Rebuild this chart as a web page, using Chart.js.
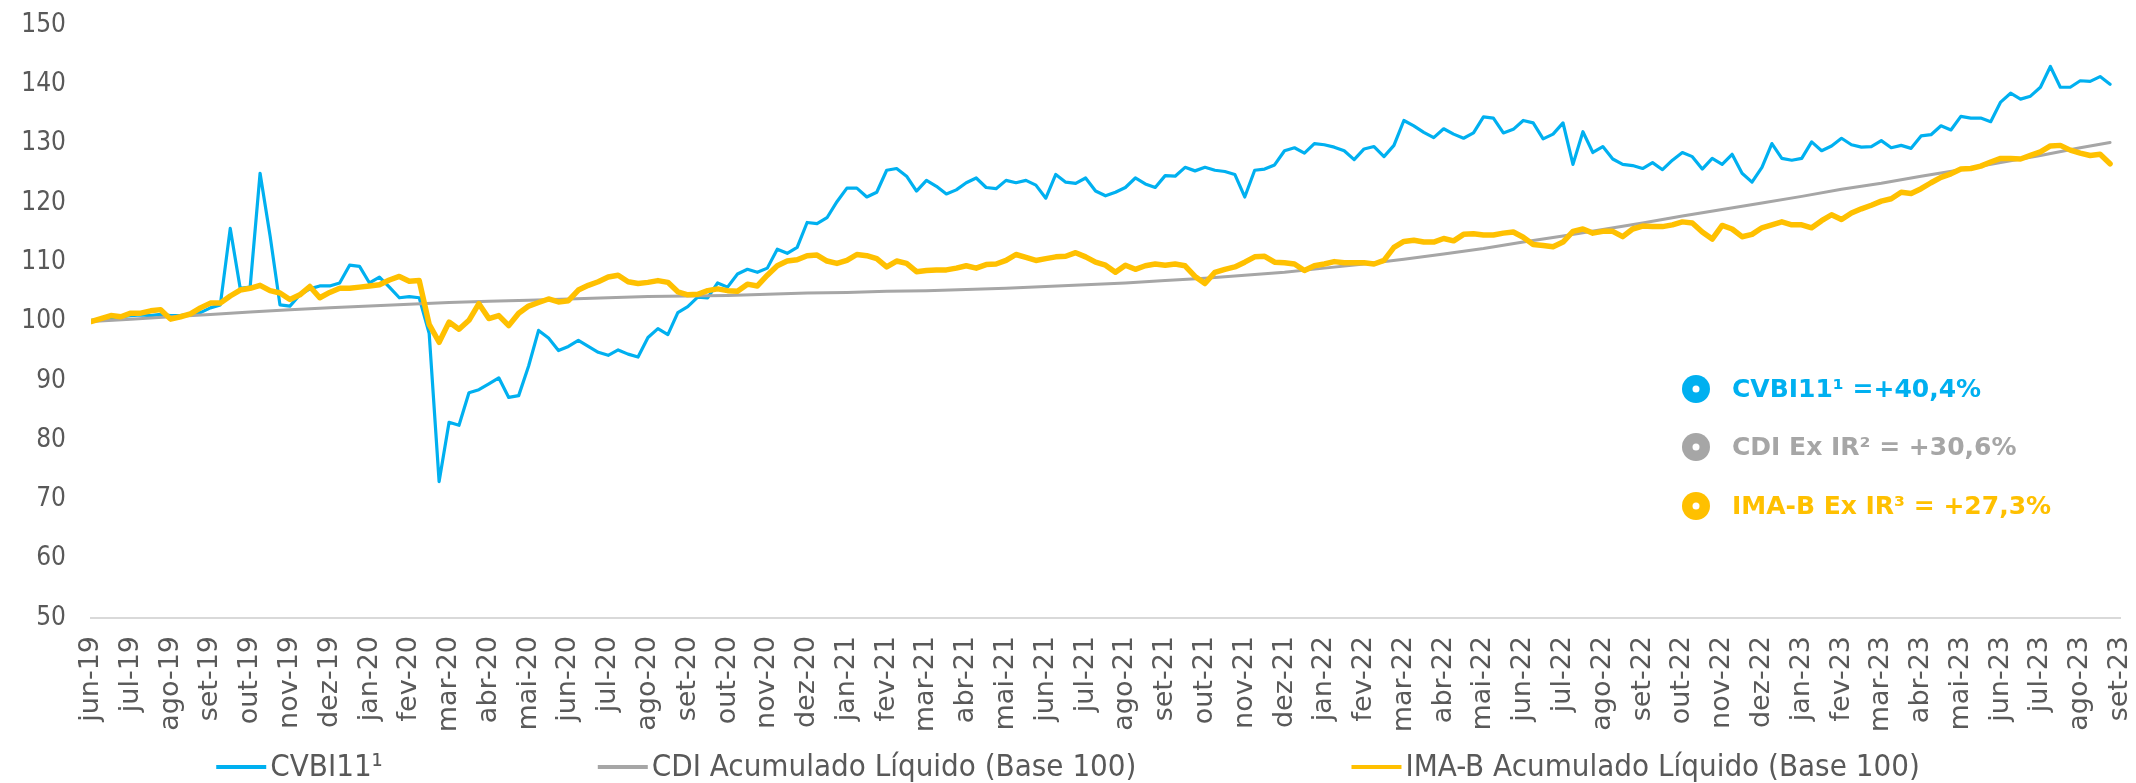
<!DOCTYPE html>
<html lang="pt-BR">
<head>
<meta charset="utf-8">
<title>CVBI11 x CDI x IMA-B</title>
<script src="https://cdn.jsdelivr.net/npm/chart.js@4.4.1/dist/chart.umd.min.js"></script>
<style>
  html, body { margin: 0; padding: 0; background: #fff; }
  #chart { display: block; }
</style>
</head>
<body>
<canvas id="chart" width="2136" height="783"></canvas>
<script>
// ------------------------------------------------------------------
// Data (read off the reference). x is measured in months from jun-19.
// ------------------------------------------------------------------
const monthLabels = [
  'jun-19', 'jul-19', 'ago-19', 'set-19', 'out-19', 'nov-19', 'dez-19',
  'jan-20', 'fev-20', 'mar-20', 'abr-20', 'mai-20', 'jun-20', 'jul-20', 'ago-20', 'set-20', 'out-20', 'nov-20', 'dez-20',
  'jan-21', 'fev-21', 'mar-21', 'abr-21', 'mai-21', 'jun-21', 'jul-21', 'ago-21', 'set-21', 'out-21', 'nov-21', 'dez-21',
  'jan-22', 'fev-22', 'mar-22', 'abr-22', 'mai-22', 'jun-22', 'jul-22', 'ago-22', 'set-22', 'out-22', 'nov-22', 'dez-22',
  'jan-23', 'fev-23', 'mar-23', 'abr-23', 'mai-23', 'jun-23', 'jul-23', 'ago-23', 'set-23',
];

// weekly samples (every quarter month)
const cvbi = [
  100.2, 100.3, 100.6, 100.8, 101.0, 101.1, 101.0, 101.2, 101.0, 101.0, 101.3, 101.5,
  102.3, 102.8, 115.7, 105.6, 105.8, 125.0, 114.5, 102.8, 102.6, 104.5, 105.5, 106.0,
  106.0, 106.5, 109.5, 109.3, 106.5, 107.5, 105.8, 104.0, 104.2, 104.0, 98.0, 73.0,
  83.0, 82.5, 88.0, 88.5, 89.5, 90.5, 87.2, 87.5, 92.5, 98.5, 97.2, 95.1,
  95.8, 96.8, 95.8, 94.8, 94.3, 95.2, 94.5, 94.0, 97.3, 98.8, 97.8, 101.5,
  102.5, 104.1, 104.0, 106.5, 105.8, 108.0, 108.8, 108.3, 109.0, 112.2, 111.5, 112.5,
  116.7, 116.5, 117.5, 120.2, 122.5, 122.5, 121.0, 121.8, 125.5, 125.8, 124.5, 122.0,
  123.8, 122.8, 121.5, 122.2, 123.4, 124.2, 122.6, 122.4, 123.8, 123.4, 123.8, 123.0,
  120.8, 124.8, 123.5, 123.3, 124.2, 122.0, 121.2, 121.8, 122.6, 124.2, 123.2, 122.6,
  124.6, 124.5, 126.0, 125.4, 126.0, 125.5, 125.3, 124.8, 121.0, 125.5, 125.7, 126.4,
  128.8, 129.3, 128.4, 130.0, 129.8, 129.4, 128.8, 127.3, 129.1, 129.5, 127.8, 129.7,
  133.9, 133.0, 131.9, 131.0, 132.5, 131.6, 130.9, 131.8, 134.5, 134.3, 131.8, 132.4,
  133.9, 133.5, 130.8, 131.6, 133.5, 126.5, 132.0, 128.5, 129.5, 127.4, 126.5, 126.3,
  125.8, 126.8, 125.6, 127.2, 128.5, 127.8, 125.7, 127.5, 126.5, 128.2, 125.0, 123.5,
  126.0, 130.0, 127.5, 127.2, 127.5, 130.3, 128.8, 129.6, 130.9, 129.8, 129.4, 129.5,
  130.5, 129.3, 129.7, 129.2, 131.3, 131.5, 133.0, 132.3, 134.6, 134.3, 134.3, 133.7,
  137.0, 138.5, 137.5, 138.0, 139.5, 143.0, 139.5, 139.5, 140.6, 140.5, 141.3, 140.0,
];

const imaB = [
  100.0, 100.5, 101.0, 100.8, 101.4, 101.4, 101.8, 102.0, 100.4, 100.8, 101.3, 102.3,
  103.1, 103.1, 104.3, 105.3, 105.6, 106.1, 105.2, 104.8, 103.7, 104.5, 105.9, 104.0,
  104.9, 105.6, 105.6, 105.8, 106.0, 106.2, 107.0, 107.6, 106.8, 106.9, 99.5, 96.5,
  99.9, 98.7, 100.2, 103.0, 100.5, 101.0, 99.3, 101.4, 102.6, 103.2, 103.8, 103.3,
  103.5, 105.3, 106.1, 106.7, 107.5, 107.8, 106.7, 106.4, 106.6, 106.9, 106.6, 105.0,
  104.5, 104.6, 105.2, 105.5, 105.2, 105.1, 106.3, 106.0, 107.8, 109.4, 110.2, 110.4,
  111.1, 111.2, 110.2, 109.8, 110.3, 111.3, 111.1, 110.6, 109.2, 110.2, 109.8, 108.4,
  108.6, 108.7, 108.7, 109.0, 109.4, 109.0, 109.6, 109.7, 110.3, 111.3, 110.8, 110.3,
  110.6, 110.9, 111.0, 111.6, 110.9, 110.0, 109.5, 108.3, 109.5, 108.8, 109.4, 109.7,
  109.5, 109.7, 109.4, 107.6, 106.4, 108.3, 108.8, 109.2, 110.0, 110.9, 111.0, 110.0,
  109.9, 109.7, 108.6, 109.4, 109.7, 110.1, 109.9, 109.9, 109.9, 109.7, 110.3, 112.5,
  113.5, 113.7, 113.4, 113.4, 114.0, 113.6, 114.7, 114.8, 114.6, 114.6, 114.9, 115.1,
  114.2, 113.0, 112.8, 112.6, 113.4, 115.2, 115.6, 114.9, 115.2, 115.2, 114.3, 115.6,
  116.1, 116.0, 116.0, 116.3, 116.8, 116.6, 115.1, 113.9, 116.2, 115.6, 114.3, 114.7,
  115.8, 116.3, 116.8, 116.3, 116.3, 115.8, 117.0, 118.0, 117.2, 118.3, 119.0, 119.6,
  120.3, 120.7, 121.8, 121.6, 122.4, 123.4, 124.3, 124.9, 125.7, 125.8, 126.2, 126.9,
  127.5, 127.5, 127.4, 128.0, 128.6, 129.6, 129.7, 128.9, 128.4, 128.0, 128.2, 126.6,
];

// CDI is smooth, so one reading per month is enough
const cdiMonths = [
  0, 1, 2, 3, 4, 5, 6, 7, 8, 9, 10, 11, 12, 13, 14, 15, 16, 17, 18, 19, 20, 21, 22, 23, 24, 25,
  26, 27, 28, 29, 30, 31, 32, 33, 34, 35, 36, 37, 38, 39, 40, 41, 42, 43, 44, 45, 46, 47, 48, 49, 50, 50.75,
];
const cdi = [
  100.0, 100.4, 100.8, 101.2, 101.6, 102.0, 102.3, 102.6, 102.9, 103.2, 103.4, 103.6, 103.8,
  104.0, 104.2, 104.3, 104.4, 104.6, 104.8, 104.9, 105.1, 105.2, 105.4, 105.6, 105.9, 106.2,
  106.5, 106.9, 107.3, 107.8, 108.3, 109.0, 109.7, 110.5, 111.4, 112.3, 113.4, 114.4, 115.5,
  116.6, 117.8, 118.9, 120.0, 121.1, 122.3, 123.3, 124.5, 125.6, 126.8, 128.0, 129.3, 130.2,
];

const seriesNames = ['CVBI11¹', 'CDI Acumulado Líquido (Base 100)', 'IMA-B Acumulado Líquido (Base 100)'];
const resultNotes = ['CVBI11¹ =+40,4%', 'CDI Ex IR² = +30,6%', 'IMA-B Ex IR³ = +27,3%'];

const COLORS = { blue: '#00B0F0', gray: '#A6A6A6', gold: '#FFC000', text: '#595959', axis: '#D9D9D9' };
const FONT = '"DejaVu Sans", Verdana, sans-serif';
const FONT_NARROW = '"DejaVu Sans Condensed", "Liberation Sans Narrow", "DejaVu Sans", sans-serif';

const weekPos = cvbi.map((_, i) => i / 4);
const toXY = (xs, ys) => ys.map((y, i) => ({ x: xs[i], y }));

// ------------------------------------------------------------------
// Plugins: right-side result notes + bottom legend
// ------------------------------------------------------------------
const notesPlugin = {
  id: 'notesPlugin',
  afterDraw(chart) {
    const ctx = chart.ctx;
    const ys = [389, 447, 506];
    const cx = 1696;
    ctx.save();
    ctx.font = `bold 25px ${FONT}`;
    ctx.textBaseline = 'middle';
    resultNotes.forEach((txt, i) => {
      const color = chart.data.datasets[i].borderColor;
      ctx.fillStyle = color;
      ctx.beginPath(); ctx.arc(cx, ys[i], 14, 0, Math.PI * 2); ctx.fill();
      ctx.fillStyle = '#fff';
      ctx.beginPath(); ctx.arc(cx, ys[i], 3.5, 0, Math.PI * 2); ctx.fill();
      ctx.fillStyle = color;
      ctx.fillText(txt, cx + 36, ys[i] + 1);
    });
    ctx.restore();
  },
};

const legendPlugin = {
  id: 'legendPlugin',
  afterDraw(chart) {
    const ctx = chart.ctx;
    const sample = 50, textGap = 4, itemGap = 215, y = 767;
    ctx.save();
    ctx.font = `31px ${FONT_NARROW}`;
    ctx.textBaseline = 'middle';
    const items = chart.data.datasets.map(ds => ({ ds, w: sample + textGap + ctx.measureText(ds.label).width }));
    const total = items.reduce((s, it) => s + it.w, 0) + itemGap * (items.length - 1);
    let x = (chart.width - total) / 2;
    items.forEach(({ ds, w }) => {
      ctx.strokeStyle = ds.borderColor;
      ctx.lineWidth = 4;
      ctx.beginPath(); ctx.moveTo(x, y); ctx.lineTo(x + sample, y); ctx.stroke();
      ctx.fillStyle = COLORS.text;
      ctx.fillText(ds.label, x + sample + textGap, y + 1);
      x += w + itemGap;
    });
    ctx.restore();
  },
};

new Chart(document.getElementById('chart'), {
  type: 'line',
  data: {
    datasets: [
      { label: seriesNames[0], data: toXY(weekPos, cvbi), borderColor: COLORS.blue, borderWidth: 3.2, order: 3 },
      { label: seriesNames[1], data: toXY(cdiMonths, cdi), borderColor: COLORS.gray, borderWidth: 3, order: 2 },
      { label: seriesNames[2], data: toXY(weekPos, imaB), borderColor: COLORS.gold, borderWidth: 5.5, order: 1 },
    ],
  },
  options: {
    responsive: false,
    animation: false,
    devicePixelRatio: 1,
    layout: { padding: { top: 25, right: 16, bottom: 40, left: 0 } },
    elements: {
      point: { radius: 0 },
      line: { tension: 0, borderJoinStyle: 'round', borderCapStyle: 'round' },
    },
    plugins: { legend: { display: false }, tooltip: { enabled: false } },
    scales: {
      x: {
        type: 'linear',
        min: 0,
        max: monthLabels.length - 1,
        grid: { display: false, drawTicks: false },
        border: { display: true, color: COLORS.axis, width: 2 },
        afterBuildTicks: s => { s.ticks = monthLabels.map((_, i) => ({ value: i })); },
        afterFit: s => { s.height = 125; s.paddingLeft = 0; s.paddingRight = 0; },
        ticks: {
          autoSkip: false,
          maxRotation: 90,
          minRotation: 90,
          padding: 18,
          color: COLORS.text,
          font: { family: FONT, size: 27 },
          callback: v => monthLabels[v],
        },
      },
      y: {
        min: 50,
        max: 150,
        grid: { display: false, drawTicks: false },
        border: { display: false },
        afterFit: s => { s.width = 91; s.paddingTop = 0; s.paddingBottom = 0; },
        ticks: {
          stepSize: 10,
          padding: 25,
          color: COLORS.text,
          font: { family: FONT_NARROW, size: 26 },
        },
      },
    },
  },
  plugins: [notesPlugin, legendPlugin],
});
</script>
</body>
</html>
